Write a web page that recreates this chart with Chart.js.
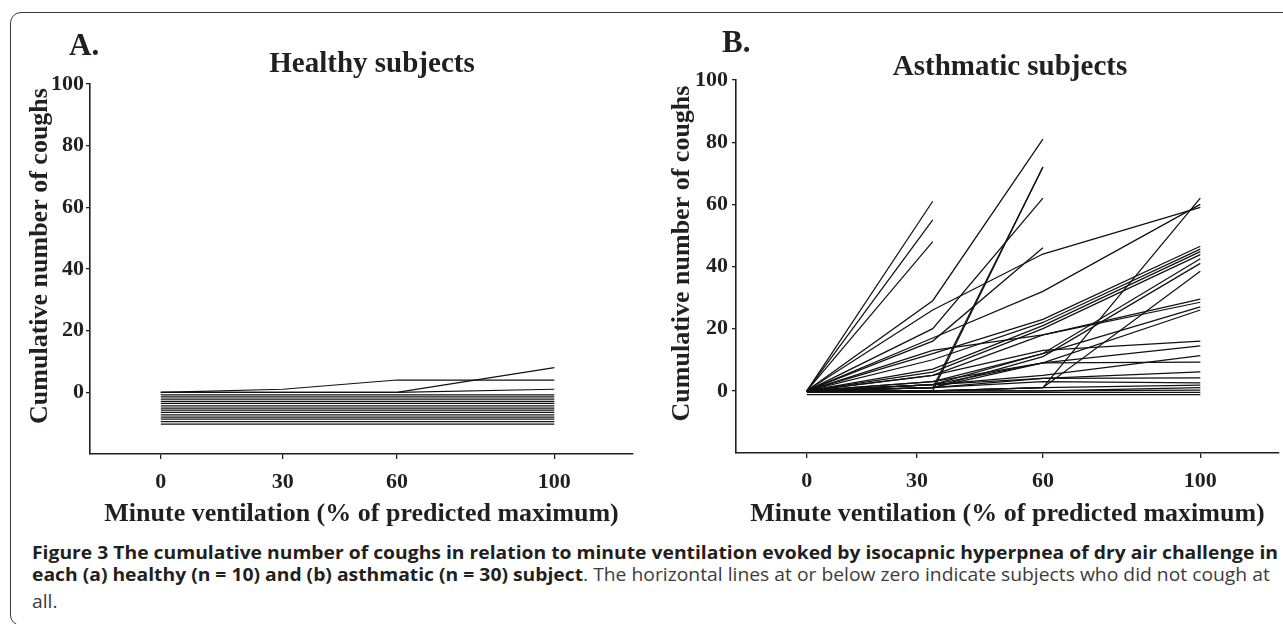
<!DOCTYPE html>
<html>
<head>
<meta charset="utf-8">
<script src="https://cdn.jsdelivr.net/npm/chart.js@4.4.1/dist/chart.umd.min.js"></script>
<style>
html,body{margin:0;padding:0;background:#fff;width:1283px;height:624px;overflow:hidden;position:relative;}
#frame{position:absolute;left:10px;top:12px;width:1330px;height:614px;border:1.5px solid #3a3a3a;border-radius:11px;box-sizing:border-box;}
canvas{position:absolute;top:0;}
#c1{left:0;}
#c2{left:640px;}
.lbl{position:absolute;font-family:"Liberation Serif","Times New Roman",serif;font-weight:bold;color:#231f20;line-height:1;white-space:nowrap;}
.ctr{transform:translateX(-50%);}
.cap{position:absolute;left:32px;font-family:"Open Sans",sans-serif;white-space:nowrap;line-height:1;color:#3c3c3c;font-size:18px;transform-origin:0 0;}
.cap b{color:#231f20;font-weight:bold;}
</style>
</head>
<body>
<div id="frame"></div>
<canvas id="c1" width="640" height="540"></canvas>
<canvas id="c2" width="643" height="540"></canvas>
<div class="lbl" style="left:69px;top:29px;font-size:31px;">A.</div>
<div class="lbl" style="left:722px;top:26px;font-size:31px;">B.</div>
<div class="lbl ctr" style="left:372px;top:48px;font-size:29px;">Healthy subjects</div>
<div class="lbl ctr" style="left:1010px;top:51px;font-size:29px;">Asthmatic subjects</div>
<div class="cap" id="cap1"><b>Figure 3 The cumulative number of coughs in relation to minute ventilation evoked by isocapnic hyperpnea of dry air challenge in</b></div>
<div class="cap" id="cap2"><b>each (a) healthy (n = 10) and (b) asthmatic (n = 30) subject</b>. The horizontal lines at or below zero indicate subjects who did not cough at</div>
<div class="cap" id="cap3">all.</div>
<script>
// ---- data ----
const xTickLabels = ['0', '30', '60', '100'];
const yTickValues = [0, 20, 40, 60, 80, 100];

// Healthy subjects (x = % of predicted maximum ventilation)
const healthyX = [0, 31, 60, 100];
const healthyTickX = [0, 31, 60, 100];
const healthyCoughers = [
  [0, 1, 4, 4],
  [0, 0, 0, 8],
  [0, 0, 0, 1]
];
// horizontal lines drawn at / below zero (no coughs)
const healthyNonCoughers = [-0.8, -1.5, -2.2, -2.9, -3.6, -4.4, -5.1, -5.8, -6.5, -7.3, -8.0, -8.7, -9.5, -10.3];

// Asthmatic subjects
const asthmaX = [0, 32, 60, 100];
const asthmaTickX = [0, 28, 60, 100];
const asthmaStoppedAt30 = [
  [0, 61],
  [0, 55],
  [0, 48]
];
const asthmaStoppedAt60 = [
  [0, 29, 81],
  [0, 20, 62],
  [0, 0, 72],
  [0, 1, 72],
  [0, 16, 46]
];
const asthmaHigh = [
  [0, 26, 44, 59],
  [0, 17, 32, 60],
  [0, 0, 1, 62],
  [0, 0, 1, 38.5]
];
const asthmaMid = [
  [0, 12, 23, 46.5],
  [0, 10, 22, 45.6],
  [0, 7, 21, 44.8],
  [0, 6, 20, 43.8],
  [0, 2, 12, 42.5],
  [0, 1, 11, 41],
  [0, 13, 18, 29.5],
  [0, 5, 18, 28.5],
  [0, 3, 12, 27],
  [0, 2, 9, 26]
];
const asthmaLow = [
  [0, 5, 13, 16],
  [0, 3, 9, 14.5],
  [0, 2, 5, 11.3],
  [0, 1, 9, 9.2],
  [0, 1, 4, 6.1],
  [0, 2, 4, 4.2],
  [0, 1, 3, 2.6],
  [0, 0, 1, 1.8],
  [0, 0, 0, 1],
  [0, 0, 0, 0.2]
];
const asthmaNonCoughers = [-0.5, -1.2];

// ---- chart building ----
const INK = '#231f20';
const serif = 'Liberation Serif';

function lineSet(xs, ys) {
  return {
    data: ys.map((v, i) => ({x: xs[i], y: v})),
    borderColor: '#111',
    borderWidth: 1.25,
    pointRadius: 0,
    tension: 0,
    fill: false
  };
}

function buildChart(id, datasets, tickX, o) {
  return new Chart(document.getElementById(id), {
    type: 'line',
    data: {datasets: datasets},
    options: {
      responsive: false,
      animation: false,
      devicePixelRatio: 1,
      layout: {padding: {left: 0, right: o.padRight, top: o.padTop, bottom: 0}},
      plugins: {legend: {display: false}, tooltip: {enabled: false}},
      scales: {
        x: {
          type: 'linear', min: -18, max: 120,
          afterBuildTicks: s => { s.ticks = tickX.map(v => ({value: v})); },
          afterFit: s => { s.height = o.xHeight; },
          grid: {display: true, drawOnChartArea: false, drawTicks: true, tickLength: 5, color: INK, lineWidth: 1.3},
          border: {display: true, color: INK, width: 1.6},
          ticks: {
            color: INK, padding: 10, maxRotation: 0, autoSkip: false,
            font: {family: serif, weight: 'bold', size: 22},
            callback: (v, i) => xTickLabels[i]
          },
          title: {
            display: true, text: 'Minute ventilation (% of predicted maximum)', color: INK,
            font: {family: serif, weight: 'bold', size: 26}, padding: {top: 0, bottom: 10}
          }
        },
        y: {
          type: 'linear', min: -20, max: 100,
          afterBuildTicks: s => { s.ticks = yTickValues.map(v => ({value: v})); },
          afterFit: s => { s.width = o.yWidth; },
          grid: {display: true, drawOnChartArea: false, drawTicks: true, tickLength: 4, color: INK, lineWidth: 1.3},
          border: {display: true, color: INK, width: 1.6},
          ticks: {
            color: INK, padding: o.yTickPad,
            font: {family: serif, weight: 'bold', size: 22}
          },
          title: {
            display: true, text: '    Cumulative number of coughs', color: INK,
            font: {family: serif, weight: 'bold', size: 26}, padding: {top: o.yTitlePad, bottom: 0}
          }
        }
      }
    }
  });
}

const healthySets = [];
healthyCoughers.forEach(s => healthySets.push(lineSet(healthyX, s)));
healthyNonCoughers.forEach(v => healthySets.push(lineSet(healthyX, [v, v, v, v])));

const asthmaSets = [];
[asthmaStoppedAt30, asthmaStoppedAt60, asthmaHigh, asthmaMid, asthmaLow].forEach(group =>
  group.forEach(s => asthmaSets.push(lineSet(asthmaX, s))));
asthmaNonCoughers.forEach(v => asthmaSets.push(lineSet(asthmaX, [v, v, v, v])));

buildChart('c1', healthySets, healthyTickX, {padRight: 7, padTop: 84, xHeight: 86, yWidth: 90, yTickPad: 2, yTitlePad: 25});
buildChart('c2', asthmaSets, asthmaTickX, {padRight: 4, padTop: 80, xHeight: 87, yWidth: 96, yTickPad: 4, yTitlePad: 27});

// condense caption horizontally to the reference line width
(function () {
  const c1 = document.getElementById('cap1');
  const w = c1.getBoundingClientRect().width;
  const sx = 1246 / w;
  const tops = [543, 565, 592];
  ['cap1', 'cap2', 'cap3'].forEach((id, i) => {
    const el = document.getElementById(id);
    el.style.top = tops[i] + 'px';
    el.style.transform = 'scaleX(' + sx + ')';
  });
})();
</script>
</body>
</html>
